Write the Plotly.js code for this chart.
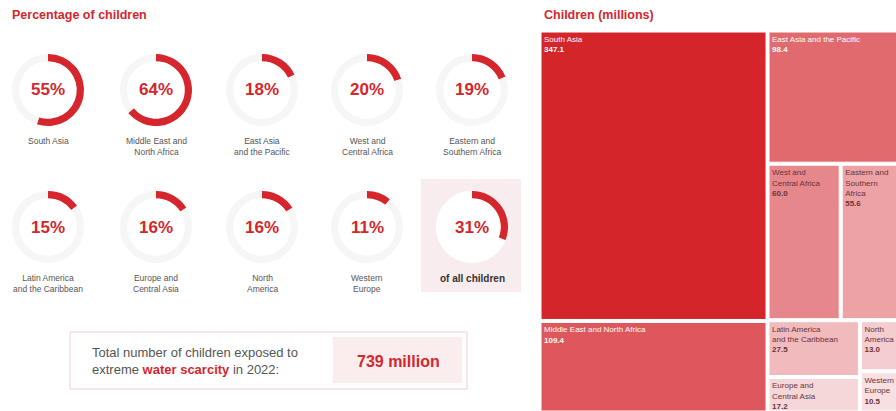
<!DOCTYPE html>
<html>
<head>
<meta charset="utf-8">
<script src="https://cdn.plot.ly/plotly-3.0.1.min.js"></script>
<style>
html, body { margin:0; padding:0; overflow:hidden; background:#fff; width:896px; height:411px; }
#chart { position:absolute; left:0; top:0; }
</style>
</head>
<body>
<div id="chart"></div>
<script>
// ---- Data: percentage of children exposed to extreme water scarcity ----
const regions = ["South Asia", "Middle East and\nNorth Africa", "East Asia\nand the Pacific", "West and\nCentral Africa", "Eastern and\nSouthern Africa",
                 "Latin America\nand the Caribbean", "Europe and\nCentral Asia", "North\nAmerica", "Western\nEurope", "of all children"];
const percents = [55, 64, 18, 20, 19, 15, 16, 16, 11, 31];

// ---- Data: children (millions), treemap ----
const tmIds     = ["root", "colL", "colR", "South Asia", "Middle East and North Africa", "East Asia and the Pacific", "rowR", "blockR",
                   "West and Central Africa", "Eastern and Southern Africa", "subC1", "subC2",
                   "Latin America and the Caribbean", "Europe and Central Asia", "North America", "Western Europe"];
const tmParents = ["", "root", "root", "colL", "colL", "colR", "colR", "colR",
                   "rowR", "rowR", "blockR", "blockR",
                   "subC1", "subC1", "subC2", "subC2"];
const tmValues  = [0, 0, 0, 347.1, 109.4, 98.4, 0, 0,
                   60.0, 55.6, 0, 0,
                   27.5, 17.2, 13.0, 10.5];
const tmText    = ["", "", "", "South Asia", "Middle East and North Africa", "East Asia and the Pacific", "", "",
                   "West and<br>Central Africa", "Eastern and<br>Southern<br>Africa", "", "",
                   "Latin America<br>and the Caribbean", "Europe and<br>Central Asia", "North<br>America", "Western<br>Europe"];
const totalChildren = "739 million";

// ---- Styling ----
const W = 910, H = 411;
const RED = "#d4262c";
const FONT = "Liberation Sans, Arial, sans-serif";
const px = x => x / W;
const py = y => 1 - y / H;

const centersX = [48, 156, 262, 367, 472];
const centersY = [90, 227];
const R = 36;

const traces = [];
const annotations = [];
const shapes = [];

// pink highlight box for "of all children"
shapes.push({type:"rect", xref:"paper", yref:"paper", x0:px(421), x1:px(521), y0:py(292), y1:py(179),
             fillcolor:"#f9ecee", line:{width:0}, layer:"below"});
// white disc behind the last gauge
shapes.push({type:"circle", xref:"paper", yref:"paper",
             x0:px(centersX[4]-R), x1:px(centersX[4]+R), y0:py(centersY[1]+R), y1:py(centersY[1]-R),
             fillcolor:"#ffffff", line:{width:0}, layer:"below"});

percents.forEach((p, i) => {
  const row = Math.floor(i / 5), col = i % 5;
  const cx = centersX[col], cy = centersY[row];
  const last = i === percents.length - 1;
  traces.push({
    type:"pie", values:[p, 100 - p], sort:false, direction:"clockwise", rotation:0,
    hole:0.8, textinfo:"none", hoverinfo:"skip", showlegend:false,
    marker:{colors:[RED, last ? "#ffffff" : "#f6f6f6"], line:{width:0}},
    domain:{x:[px(cx - R), px(cx + R)], y:[py(cy + R), py(cy - R)]}
  });
  annotations.push({xref:"paper", yref:"paper", x:px(cx), y:py(cy), text:"<b>" + p + "%</b>",
                    showarrow:false, xanchor:"center", yanchor:"middle",
                    font:{family:FONT, size:17, color:RED}});
  annotations.push({xref:"paper", yref:"paper", x:px(cx), y:py(cy + 44), text: last ? "<b>" + regions[i] + "</b>" : regions[i].replace("\n", "<br>"),
                    showarrow:false, xanchor:"center", yanchor:"top",
                    font:{family:FONT, size: last ? 10 : 8.5, color: last ? "#333333" : "#555555"}});
});

// treemap
const tmColors = ["#ffffff", "#ffffff", "#ffffff", "#d4252b", "#dd575c", "#e06a6d", "#ffffff", "#ffffff",
                  "#e6878b", "#eda2a5", "#ffffff", "#ffffff",
                  "#f1babd", "#f6d7d9", "#f4cdd0", "#f8e0e2"];
const tmTextColors = tmIds.map((id, i) => i >= 3 && i <= 5 ? "#ffffff" : "#6a3336");
const tmTemplates = tmText.map(t => t ? "%{text}<br><b>%{value:.1f}</b>" : " ");

traces.push({
  type:"treemap", ids:tmIds, labels:tmIds, parents:tmParents, values:tmValues, text:tmText,
  branchvalues:"remainder", sort:false,
  texttemplate:tmTemplates, textposition:"top left", hoverinfo:"skip",
  textfont:{family:FONT, size:8, color:tmTextColors},
  insidetextfont:{family:FONT, size:8, color:tmTextColors},
  marker:{colors:tmColors, line:{width:1, color:"#ffffff"}, pad:{t:0, l:0, r:0, b:0}},
  tiling:{packing:"slice-dice", pad:3},
  pathbar:{visible:false},
  domain:{x:[px(541), px(907)], y:[0, py(32)]}
});

// titles
annotations.push({xref:"paper", yref:"paper", x:px(10), y:py(15), text:"<b>Percentage of children</b>",
                  showarrow:false, xanchor:"left", yanchor:"middle", font:{family:FONT, size:12.5, color:RED}});
annotations.push({xref:"paper", yref:"paper", x:px(542), y:py(15), text:"<b>Children (millions)</b>",
                  showarrow:false, xanchor:"left", yanchor:"middle", font:{family:FONT, size:12.5, color:RED}});

// total box
shapes.push({type:"rect", xref:"paper", yref:"paper", x0:px(70), x1:px(467), y0:py(389), y1:py(332),
             fillcolor:"#ffffff", line:{width:1, color:"#f3cfd1"}, layer:"below"});
shapes.push({type:"rect", xref:"paper", yref:"paper", x0:px(333), x1:px(462), y0:py(383), y1:py(337),
             fillcolor:"#fbedee", line:{width:0}, layer:"below"});
annotations.push({xref:"paper", yref:"paper", x:px(90), y:py(361), align:"left",
                  text:"Total number of children exposed to<br>extreme <b><span style='color:" + RED + "'>water scarcity</span></b> in 2022:",
                  showarrow:false, xanchor:"left", yanchor:"middle", font:{family:FONT, size:13, color:"#555555"}});
annotations.push({xref:"paper", yref:"paper", x:px(398), y:py(361), text:"<b>" + totalChildren + "</b>",
                  showarrow:false, xanchor:"center", yanchor:"middle", font:{family:FONT, size:16, color:RED}});

Plotly.newPlot("chart", traces, {
  width:W, height:H, margin:{l:0, r:0, t:0, b:0},
  paper_bgcolor:"#ffffff", plot_bgcolor:"#ffffff",
  showlegend:false, annotations:annotations, shapes:shapes,
  uniformtext:{mode:"show", minsize:8}
}, {displayModeBar:false, staticPlot:true});
</script>
</body>
</html>
